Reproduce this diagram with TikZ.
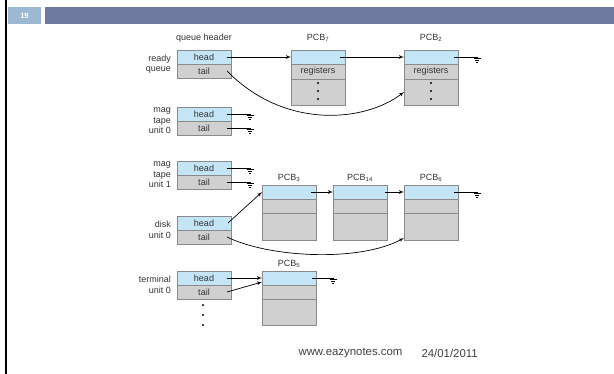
\documentclass[tikz,border=0pt]{standalone}
\usepackage{fontspec}
\setmainfont{Liberation Sans}
\usepackage{tikz}
\usetikzlibrary{arrows}
\usetikzlibrary{positioning}

\definecolor{barblue}{HTML}{6F7AA0}
\definecolor{numblue}{HTML}{9DB8D2}
\definecolor{pcbblue}{HTML}{C4E5F6}
\definecolor{pcbgray}{HTML}{D0D0D0}
\definecolor{edgegray}{HTML}{8A8A8A}
\definecolor{txtgray}{HTML}{333333}

% ground symbol at the free end of a pointer
\newcommand{\earth}[1]{\draw[line width=0.6pt] (#1) -- ++(0,1.5)
    ++(-3.5,0) -- ++(7,0) ++(-5.5,2) -- ++(4,0) ++(-2.8,2) -- ++(1.6,0);}

\begin{document}
\begin{tikzpicture} [x = 1pt, y = -1pt, font = \fontsize{9}{10.5}\selectfont,
    text = txtgray,
    hd/.style = {draw = edgegray, fill = pcbblue, line width = 0.6pt,
        minimum width = 54pt, minimum height = 14pt, inner sep = 0pt, outer sep = 0pt},
    tl/.style = {hd, fill = pcbgray},
    link/.style = {line width = 0.7pt, -latex'},
    wire/.style = {line width = 0.7pt},
    lbl/.style = {align = right, anchor = east, inner sep = 0pt}]
    \useasboundingbox (0, 0) rectangle (614, 374);

    % slide frame
    \draw[line width = 2pt] (6, 0) -- (6, 374);
    \fill[numblue] (8, 7) rectangle (41, 24);
    \fill[barblue] (45, 7) rectangle (614, 24);
    \node[text = white, font = \fontsize{7.5}{9}\selectfont\bfseries] (pgno) at (24.5, 15.5) {19};

    % queue headers
    \node (qhdr) at (204, 38) {queue header};
    \foreach \q/\y in {rq/57, mtz/114, mto/168, dk/223, tm/278} {
        \node[hd] (\q head) at (204, \y) {head};
        \node[tl, below = 0pt of \q head] (\q tail) {tail};
    }
    \node[lbl] (rqlbl) at (171, 64) {ready\\queue};
    \node[lbl] (mtzlbl) at (171, 121) {mag\\tape\\unit 0};
    \node[lbl] (mtolbl) at (171, 175) {mag\\tape\\unit 1};
    \node[lbl] (dklbl) at (171, 230) {disk\\unit 0};
    \node[lbl] (tmlbl) at (171, 285) {terminal\\unit 0};

    % PCBs of the ready queue
    \node[hd] (p7top) at (318, 57) {};
    \node[tl, minimum height = 15pt, below = 0pt of p7top] (p7reg) {registers};
    \node[tl, minimum height = 26pt, below = 0pt of p7reg] (p7rest) {};
    \node (p7lbl) at (318, 38) {PCB\textsubscript{7}};
    \node[hd] (p2top) at (431, 57) {};
    \node[tl, minimum height = 15pt, below = 0pt of p2top] (p2reg) {registers};
    \node[tl, minimum height = 26pt, below = 0pt of p2reg] (p2rest) {};
    \node (p2lbl) at (431, 38) {PCB\textsubscript{2}};
    \foreach \y in {83, 91, 99} {
        \fill (318, \y) circle[radius = 1.1pt];
        \fill (431, \y) circle[radius = 1.1pt];
    }

    % PCBs of the disk queue
    \foreach \p/\x/\n in {p3/289/3, p14/360/14, p6/431/6} {
        \node[hd] (\p top) at (\x, 192) {};
        \node[tl, below = 0pt of \p top] (\p mid) {};
        \node[tl, minimum height = 27pt, below = 0pt of \p mid] (\p rest) {};
        \node (\p lbl) at (\x, 178) {PCB\textsubscript{\n}};
    }

    % PCB of the terminal queue
    \node[hd] (p5top) at (289, 278) {};
    \node[tl, below = 0pt of p5top] (p5mid) {};
    \node[tl, minimum height = 26pt, below = 0pt of p5mid] (p5rest) {};
    \node (p5lbl) at (289, 264) {PCB\textsubscript{5}};
    \foreach \y in {305, 315, 325}
        \fill (203, \y) circle[radius = 1.1pt];

    % free ends
    \coordinate (g2) at (477, 57);
    \coordinate (gmzh) at (250, 114);
    \coordinate (gmzt) at (250, 128);
    \coordinate (gmoh) at (250, 168);
    \coordinate (gmot) at (250, 182);
    \coordinate (g6) at (477, 192);
    \coordinate (g5) at (333, 278);

    % pointers
    \draw[link] (rqhead.east) ++(-4, 0) -- (p7top.west);
    \draw[link] (p7top.east) ++(-5, 0) -- (p2top.west);
    \draw[wire] (p2top.east) ++(-4, 0) -- (g2);
    \draw[link] (rqtail.east) ++(-4, 0) .. controls (285, 130) and (365, 122) .. (p2rest.west);

    \draw[wire] (mtzhead.east) ++(-4, 0) -- (gmzh);
    \draw[wire] (mtztail.east) ++(-4, 0) -- (gmzt);
    \draw[wire] (mtohead.east) ++(-4, 0) -- (gmoh);
    \draw[wire] (mtotail.east) ++(-4, 0) -- (gmot);

    \draw[link] (dkhead.east) ++(-3, 0) -- (p3top.west);
    \draw[link] (p3top.east) ++(-5, 0) -- (p14top.west);
    \draw[link] (p14top.east) ++(-2, 0) -- (p6top.west);
    \draw[wire] (p6top.east) ++(-4, 0) -- (g6);
    \draw[link] (dktail.east) ++(-4, 0) .. controls (270, 258) and (360, 262)
        .. ([yshift = 2pt]p6rest.south west);

    \draw[link] (tmhead.east) ++(-4, 0) -- (p5top.west);
    \draw[link] (tmtail.east) ++(-4, 0) -- ([yshift = -4pt]p5top.west);
    \draw[wire] (p5top.east) ++(-4, 0) -- (g5);

    \foreach \g in {g2, gmzh, gmzt, gmoh, gmot, g6, g5} {\earth{\g}}

    % footer
    \node[anchor = west, text = black!75, font = \fontsize{11.4}{13}\selectfont] (site) at (295, 353) {www.eazynotes.com};
    \node[anchor = west, text = black!75, font = \fontsize{11.4}{13}\selectfont] (date) at (418, 353) {24/01/2011};
\end{tikzpicture}
\end{document}
